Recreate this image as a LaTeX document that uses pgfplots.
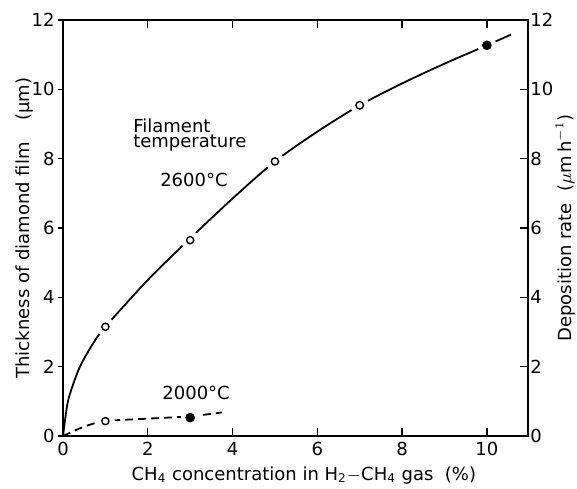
\documentclass[border=0pt]{standalone}
\usepackage{fontspec}
\setmainfont{DejaVu Sans}
\usepackage{pgfplots}
\pgfplotsset{compat=1.18}
\usetikzlibrary{plotmarks}

\begin{document}
\fontsize{9}{11}\selectfont
\begin{tikzpicture}
\pgfplotsset{
  base/.style={
    scale only axis,
    width=232.5pt, height=208pt,
    xmin=0, xmax=10.97, ymin=0, ymax=12,
    axis line style={line width=1pt},
    every tick/.style={black, line width=0.7pt},
    tick label style={font=\fontsize{9}{11}\selectfont},
    /pgf/number format/assume math mode=true,
    label style={font=\fontsize{9}{11}\selectfont},
  },
}

% left axis: y ticks outside, curves
\begin{axis}[base,
  ytick={0,2,...,12}, ytick pos=left, tick align=outside,
  major tick length=2.5pt, xtick=\empty,
  yticklabel style={xshift=1.5pt},
  every axis y label/.style={at={(axis description cs:-0.082,0.5)}, rotate=90, anchor=center},
  ylabel={Thickness of diamond film\hspace{1.2em}(\textmu m)},
]
% 2600 C curve
\addplot[black, line width=0.9pt, smooth] coordinates {
  (0,0) (0.1,0.9) (0.2,1.35) (0.4,2.0) (0.7,2.65) (1,3.15) (2,4.5)
  (3,5.7) (4,6.85) (5,7.92) (6,8.78) (7,9.54) (8,10.17) (9,10.74)
  (10,11.27) (10.57,11.58)
};
% 2000 C curve
\addplot[black, line width=0.9pt, smooth, dash pattern=on 4pt off 2.5pt] coordinates {
  (0,0) (0.5,0.27) (1,0.43) (2,0.5) (3,0.57) (3.75,0.68)
};
% gaps round the markers
\addplot[only marks, mark=*, mark size=4.5pt, white] coordinates {
  (1,3.15) (3,5.65) (5,7.92) (7,9.54) (10,11.27) (1,0.43) (3,0.53)
};
\addplot[only marks, mark=o, mark size=1.8pt, black, mark options={fill=white, line width=0.7pt}] coordinates {
  (1,3.15) (3,5.65) (5,7.92) (1,0.43)
};
\addplot[only marks, mark=halfcircle*, mark size=1.9pt, black, mark options={fill=white, line width=0.7pt, rotate=90}] coordinates {
  (7,9.54)
};
\addplot[only marks, mark=*, mark size=2.2pt, black] coordinates {
  (10,11.27) (3,0.53)
};
\node[anchor=west, inner sep=0pt] at (axis cs:1.65,8.96) {Filament};
\node[anchor=west, inner sep=0pt] at (axis cs:1.65,8.44) {temperature};
\node[inner sep=0pt] at (axis cs:3.09,7.38) {2600°C};
\node[inner sep=0pt] at (axis cs:3.14,1.24) {2000°C};
\end{axis}

% right axis and x axis: ticks inside
\begin{axis}[base,
  ytick={0,2,...,12}, ytick pos=right, yticklabel pos=right,
  tick align=inside, major tick length=4pt,
  xtick={0,2,...,10}, xtick pos=both, xticklabel pos=lower,
  yticklabel style={xshift=-2pt},
  every axis y label/.style={at={(axis description cs:1.08,0.5)}, rotate=90, anchor=center},
  ylabel={Deposition rate\ \ ($\mu$m\,h$^{-1}$)},
  every axis x label/.style={at={(axis description cs:0.518,-0.094)}, anchor=center},
  xlabel={CH\textsubscript{4} concentration in H\textsubscript{2}$-$CH\textsubscript{4} gas\ \ (\%)},
]
\end{axis}
\pgfresetboundingbox
\useasboundingbox (-31.5pt,-26pt) rectangle (257pt,218pt);
\end{tikzpicture}
\end{document}
